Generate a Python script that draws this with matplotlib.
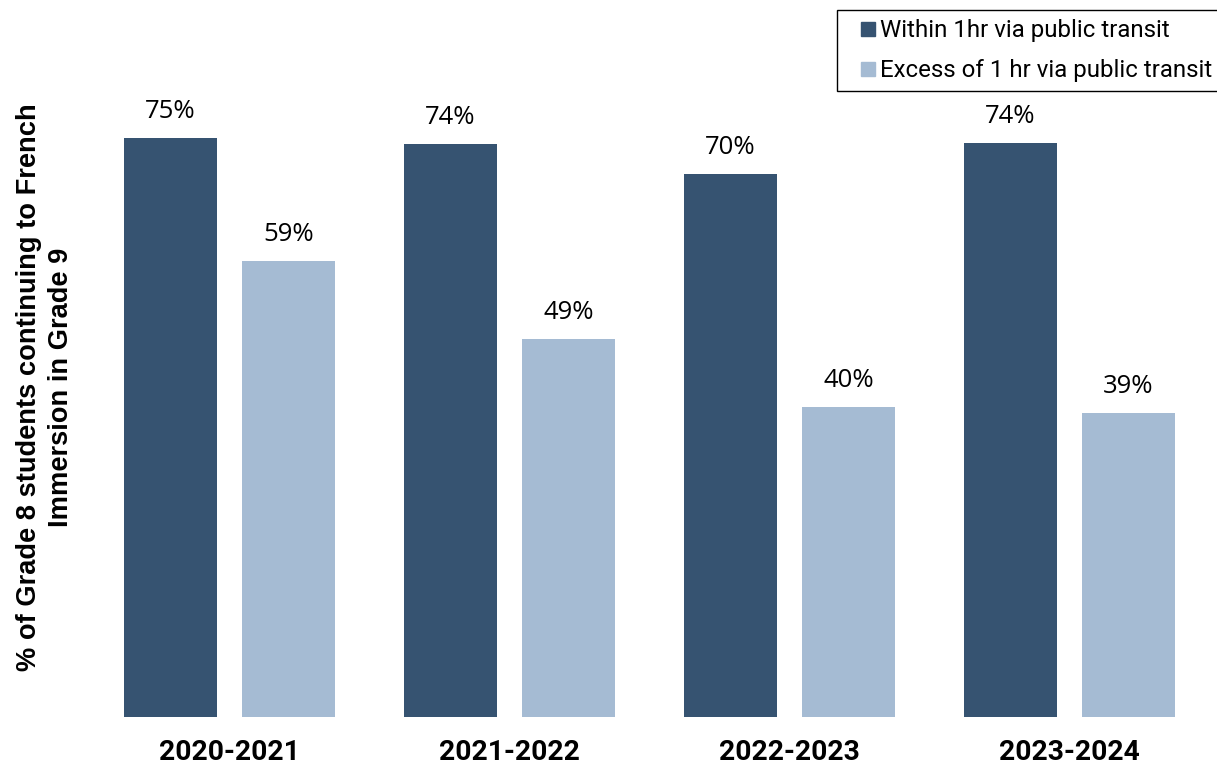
import matplotlib.pyplot as plt
from matplotlib.lines import Line2D
import numpy as np

years = ['2020-2021', '2021-2022', '2022-2023', '2023-2024']
within_1hr = [75.0, 74.2, 70.3, 74.4]
excess_1hr = [59.1, 49.0, 40.2, 39.4]
series_names = ['Within 1hr via public transit', 'Excess of 1 hr via public transit']

dark = '#365371'
light = '#a5bbd3'

fig = plt.figure(figsize=(12.17, 7.67), dpi=100)
ax = fig.add_axes([89.5 / 1217, 1 - 717 / 767, 1120 / 1217, 687 / 767])

x = np.arange(len(years))
width = 0.332
off = 0.2107

b1 = ax.bar(x - off, within_1hr, width, color=dark)
b2 = ax.bar(x + off, excess_1hr, width, color=light)

# value labels above each bar
for bars, vals in [(b1, within_1hr), (b2, excess_1hr)]:
    for rect, v in zip(bars, vals):
        ax.annotate(f'{v:.0f}%', (rect.get_x() + rect.get_width() / 2, v),
                    xytext=(0, 10), textcoords='offset points',
                    ha='center', va='bottom', fontsize=18.5, family='Open Sans')

ax.set_xlim(-0.5, 3.5)
ax.set_ylim(0, 89)
ax.set_xticks(x)
ax.set_xticklabels(years, fontsize=20.3, fontweight='bold', family='Roboto')
ax.tick_params(axis='x', length=0, pad=16)
ax.set_yticks([])
for s in ax.spines.values():
    s.set_visible(False)

fig.text(45 / 1217, 1 - 387 / 767,
         '% of Grade 8 students continuing to French\nImmersion in Grade 9',
         rotation=90, ha='center', va='center', multialignment='center',
         fontsize=19.6, fontweight='bold', family='Liberation Sans', linespacing=1.3)

handles = [Line2D([], [], marker='s', linestyle='none', markersize=9.5, color=c)
           for c in (dark, light)]
leg = fig.legend(handles, series_names, loc='upper left',
                 bbox_to_anchor=(837 / 1217, 1 - 10 / 767), bbox_transform=fig.transFigure,
                 prop={'family': 'Roboto', 'size': 17.3}, frameon=True, fancybox=False,
                 edgecolor='black', framealpha=1, handlelength=1.82, handletextpad=-0.43,
                 borderpad=0.38, labelspacing=0.7, borderaxespad=0)
leg.get_frame().set_linewidth(1.0)

fig.savefig('out.png', dpi=100)
